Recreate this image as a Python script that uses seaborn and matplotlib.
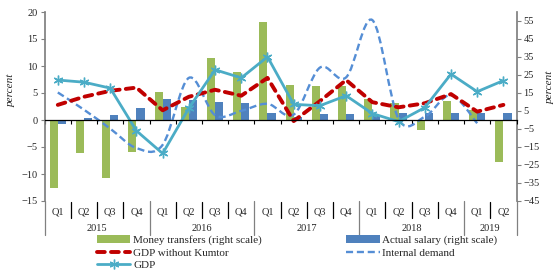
import numpy as np
import pandas as pd
import matplotlib
matplotlib.use('Agg')
import matplotlib.pyplot as plt
import seaborn as sns
from matplotlib.path import Path
from matplotlib.patches import PathPatch, Patch
from matplotlib.lines import Line2D
from matplotlib.transforms import blended_transform_factory

# --- data ---
quarters = ['Q1', 'Q2', 'Q3', 'Q4'] * 4 + ['Q1', 'Q2']
years = ['2015', '2016', '2017', '2018', '2019']
year_spans = [4, 4, 4, 4, 2]

# right scale, percent
money_transfers = [-37.6, -18.1, -32.4, -17.6, 15.7, 7.4, 34.6, 26.9, 54.6,
                   19.4, 19.0, 18.8, 11.5, 9.3, -5.3, 10.4, 5.7, -23.1]
actual_salary = [-2.4, 0.9, 2.8, 6.5, 11.7, 11.1, 9.8, 9.3, 4.1,
                 1.5, 3.1, 3.3, 2.0, 4.1, 4.1, 3.7, 4.1, 4.1]

# left scale, percent
gdp_no_kumtor = [2.8, 4.3, 5.4, 6.0, 1.8, 4.3, 5.6, 4.5, 7.8,
                 -0.2, 3.5, 7.4, 3.3, 2.35, 3.1, 4.8, 1.55, 2.8]
internal_demand = [5.1, 1.9, -1.6, -5.2, -4.6, 7.8, 0.9, 1.7, 3.0,
                   1.0, 9.7, 7.9, 18.5, 0.2, 0.6, 4.6, -0.6]
gdp = [7.4, 7.0, 5.9, -2.0, -6.2, 2.2, 9.3, 7.8, 11.7,
       2.9, 2.65, 4.5, 1.2, -0.3, 2.3, 8.5, 5.25, 7.3]

GREEN = '#9BBB59'
BLUE = '#4F81BD'
RED = '#C00000'
TEAL = '#4BACC6'
DEMAND = '#558ED5'
GRAY = '#808080'


def smooth_path(xs, ys):
    """Excel-like smoothed line as cubic Bezier segments through the points"""
    pts = np.column_stack([xs, ys]).astype(float)
    n = len(pts)
    tang = np.zeros_like(pts)
    for i in range(n):
        a = pts[max(i - 1, 0)]
        b = pts[min(i + 1, n - 1)]
        tang[i] = (b - a) / 2
    verts = [tuple(pts[0])]
    codes = [Path.MOVETO]
    for i in range(n - 1):
        verts += [tuple(pts[i] + tang[i] / 3), tuple(pts[i + 1] - tang[i + 1] / 3), tuple(pts[i + 1])]
        codes += [Path.CURVE4] * 3
    return Path(verts, codes)


sns.set_theme(style='white')
plt.rcParams['font.family'] = ['Liberation Serif', 'DejaVu Serif']

fig = plt.figure(figsize=(5.56, 2.71), dpi=100)
ax = fig.add_axes([44.7 / 556, 1 - 201 / 271, 471.8 / 556, 189 / 271])
ax2 = ax.twinx()

n = len(quarters)
idx = np.arange(n)

# Bars on the right scale
bars = pd.DataFrame({
    'pos': np.concatenate([idx, idx]),
    'value': money_transfers + actual_salary,
    'series': ['Money transfers (right scale)'] * n + ['Actual salary (right scale)'] * n,
})
sns.barplot(data=bars, x='pos', y='value', hue='series', palette=[GREEN, BLUE],
            width=0.62, gap=0, saturation=1, errorbar=None, legend=False,
            linewidth=0, ax=ax2)

# Lines on the left scale
sns.lineplot(x=idx, y=gdp_no_kumtor, ax=ax, color=RED, lw=2.8,
             linestyle=(0, (2.0, 1.6)), dash_capstyle='round')
ax.add_patch(PathPatch(smooth_path(idx[:len(internal_demand)], internal_demand),
                       fill=False, edgecolor=DEMAND, lw=1.7, linestyle=(0, (3, 1.6))))
sns.lineplot(x=idx, y=gdp, ax=ax, color=TEAL, lw=2.0, marker=(6, 2, 0),
             markersize=7, markeredgecolor=TEAL, markeredgewidth=1.0)

ax.set_zorder(2)
ax2.set_zorder(1)
ax.patch.set_visible(False)

ax.set_xlim(-0.5, n - 0.5)
ax.set_ylim(-15, 20)
ax2.set_ylim(-45, 60)
ax.set_yticks(range(-15, 21, 5))
ax2.set_yticks(range(-45, 56, 10))

ax.set_xticks(np.arange(-0.5, n, 1))
ax.set_xticklabels([])
ax.set_xlabel('')
ax2.set_xlabel('')
ax.tick_params(axis='x', direction='out', length=3, width=0.8, color='black', bottom=True)
ax.tick_params(axis='y', direction='out', length=3, width=0.8, color=GRAY, left=True,
               labelsize=7.5, pad=2)
ax2.tick_params(axis='y', direction='out', length=3, width=0.8, color=GRAY, right=True,
                labelsize=7.5, pad=2)

for s in ['top', 'right']:
    ax.spines[s].set_visible(False)
ax.spines['bottom'].set_position(('data', 0))
ax.spines['bottom'].set_color('black')
ax.spines['bottom'].set_linewidth(0.9)
ax.spines['left'].set_color(GRAY)
for s in ['top', 'bottom', 'left']:
    ax2.spines[s].set_visible(False)
ax2.spines['right'].set_color(GRAY)

ax.set_ylabel('percent', style='italic', fontsize=8)
ax.yaxis.set_label_coords(-0.061, 0.587)
ax2.set_ylabel('percent', style='italic', fontsize=8, rotation=90)
ax2.yaxis.set_label_coords(1.062, 0.603)

# Two-level category axis
trans = blended_transform_factory(ax.transData, ax.transAxes)
for i, q in enumerate(quarters):
    ax.text(i, -0.060, q, transform=trans, ha='center', va='center', fontsize=7.5)
start = 0
bounds = [-0.5]
for y, span in zip(years, year_spans):
    ax.text(start + (span - 1) / 2, -0.143, y, transform=trans, ha='center', va='center', fontsize=7.5)
    start += span
    bounds.append(start - 0.5)
for b in np.arange(0.5, n - 1, 1):
    if b in bounds:
        continue
    ax.plot([b, b], [-0.006, -0.088], transform=trans, color='black', lw=0.9, clip_on=False)
for b in bounds:
    ax.plot([b, b], [0, -0.18], transform=trans, color=GRAY, lw=0.9, clip_on=False)

# Legend
handles = [
    Patch(facecolor=GREEN, edgecolor='none'),
    Line2D([], [], color=RED, lw=2.8, linestyle=(0, (2.0, 1.6)), dash_capstyle='round'),
    Line2D([], [], color=TEAL, lw=2.0, marker=(6, 2, 0), markersize=7, markeredgecolor=TEAL),
    Patch(facecolor=BLUE, edgecolor='none'),
    Line2D([], [], color=DEMAND, lw=1.7, linestyle=(0, (3, 1.6))),
]
labels = ['Money transfers (right scale)', 'GDP without Kumtor', 'GDP',
          'Actual salary (right scale)', 'Internal demand']
fig.legend(handles, labels, ncol=2, loc='upper left', bbox_to_anchor=(97 / 556, 1 - 235 / 271),
           frameon=False, fontsize=8, handlelength=3.0, handletextpad=0.25,
           columnspacing=7.6, labelspacing=0.25, borderpad=0, borderaxespad=0)

fig.savefig('out.png', dpi=100)
